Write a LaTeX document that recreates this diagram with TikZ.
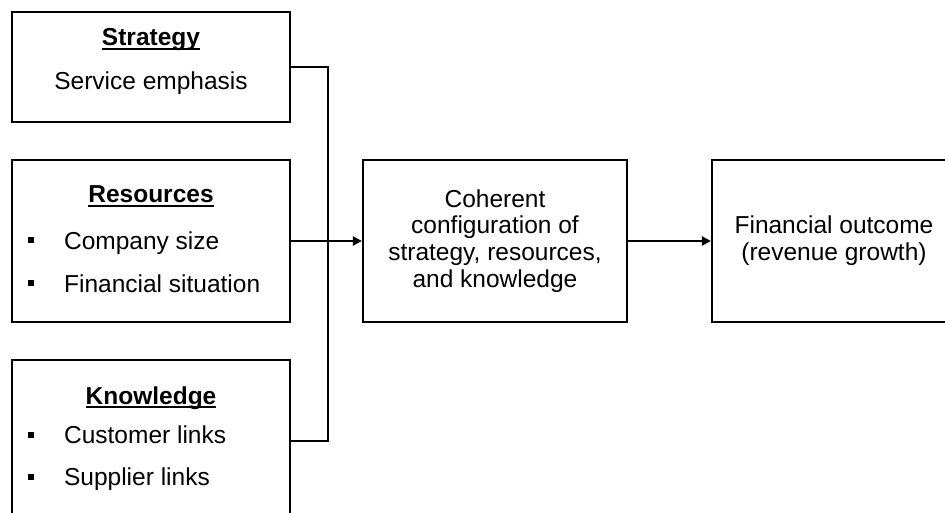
\documentclass[tikz,border=0pt]{standalone}
\usepackage{fontspec}
\setmainfont{Liberation Sans}
\usetikzlibrary{arrows.meta}

\newcommand{\heading}[1]{\sbox0{\bfseries #1}\rlap{\rule[-4pt]{\wd0}{2pt}}\usebox0}

\begin{document}
\begin{tikzpicture}[x=1pt, y=-1pt, line width=2.2pt,
  font=\fontsize{24.5}{26.7}\selectfont,
  block/.style={draw, rectangle, inner sep=0pt, align=center, minimum height=162pt},
  txt/.style={inner sep=0pt, anchor=base},
  itm/.style={inner sep=0pt, anchor=base west},
  bulletmark/.style={fill, rectangle, inner sep=0pt, minimum size=6pt},
  >={Triangle[length=9pt, width=9pt]}]

\useasboundingbox (0,0) rectangle (945,513);
\clip (0,0) rectangle (945,513);

% Strategy
\node[block, minimum width=278pt, minimum height=110pt] (strat) at (151,67) {};
\node[txt] (strat_t) at (151,46) {\heading{Strategy}};
\node[txt] (strat_1) at (151,90) {Service emphasis};

% Resources
\node[block, minimum width=278pt] (res) at (151,241) {};
\node[txt] (res_t) at (151,203) {\heading{Resources}};
\node[bulletmark] (res_b1) at (30.5,240) {};
\node[itm] (res_1) at (63,249) {Company size};
\node[bulletmark] (res_b2) at (30.5,283) {};
\node[itm] (res_2) at (63,292) {Financial situation};

% Knowledge
\node[block, minimum width=278pt] (know) at (151,441) {};
\node[txt] (know_t) at (151,404) {\heading{Knowledge}};
\node[bulletmark] (know_b1) at (30.5,435) {};
\node[itm] (know_1) at (63,443) {Customer links};
\node[bulletmark] (know_b2) at (30.5,477) {};
\node[itm] (know_2) at (63,485) {Supplier links};

% Configuration and outcome
\node[block, minimum width=264pt] (mid) at (495,241)
  {Coherent\\configuration of\\strategy, resources,\\and knowledge};
\node[block, minimum width=244pt] (out) at (834,241)
  {Financial outcome\\(revenue growth)};

% Connectors
\coordinate (bus) at (328,241);
\draw (strat.east) -| (bus);
\draw (know.east) -| (bus);
\draw[->] (res.east) -- (mid.west);
\draw[->] (mid.east) -- (out.west);

\end{tikzpicture}
\end{document}
